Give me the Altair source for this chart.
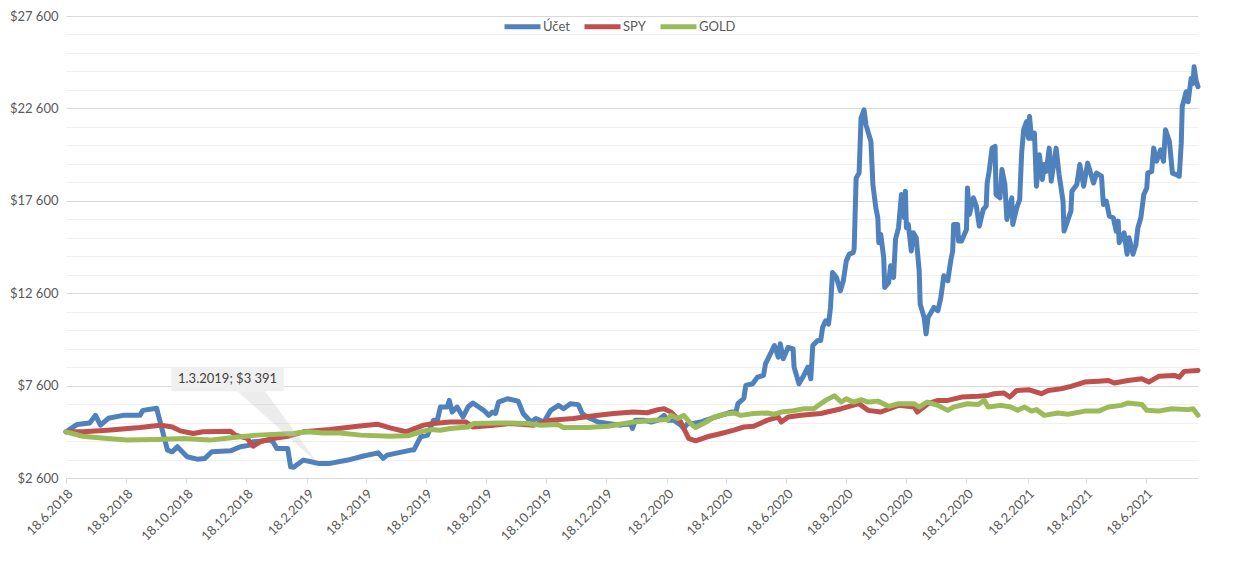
import altair as alt
import pandas as pd

START = pd.Timestamp("2018-06-18")

series_names = ["Účet", "SPY", "GOLD"]
series_colors = ["#4F81BD", "#C0504D", "#9BBB59"]

# (days since 18.6.2018, value in $)
ucet = [(0,5100),(11,5490),(24,5580),(30,5990),(35,5460),(43,5830),(58,5990),(75,5990),(78,6260),(92,6370),
        (103,4110),(108,4020),(113,4290),(123,3750),(133,3620),(141,3660),(148,4020),(167,4070),(177,4290),(187,4380),
        (190,4560),(207,4650),(210,4560),(214,4200),(225,4200),(228,3210),(231,3180),(241,3570),(251,3450),(256,3391),
        (268,3390),(286,3570),(302,3790),(317,3960),(322,3660),(326,3840),(350,4110),(353,4110),(360,4830),(367,4920),
        (373,5730),(377,5730),(380,6440),(387,6440),(389,6800),(392,6170),(397,6440),(403,5900),(408,6440),(413,6660),
        (419,6440),(424,6260),(429,5990),(433,6170),(436,6090),(439,6710),(448,6890),(459,6760),(464,6090),(472,5630),
        (477,5820),(485,5630),(492,6260),(500,6530),(505,6350),(512,6620),(520,6570),(524,6090),(529,5900),(540,5630),
        (550,5550),(563,5460),(573,5550),(575,5280),(578,5730),(586,5730),(594,5630),(601,5730),(607,5990),(611,5730),
        (617,5730),(624,5460),(627,5280),(631,5550),(637,5550),(644,5630),(655,5820),(665,5990),(675,6170),(680,6170),
        (682,6620),(688,6910),(690,7610),(697,7700),(702,8060),(708,8150),(710,8780),(715,9320),(719,9770),(723,9140),
        (725,9860),(728,9050),(733,9670),(738,9590),(739,8600),(744,7700),(748,8060),(753,8600),(756,7970),(758,9770),
        (763,10040),(766,10040),(768,10750),(771,11110),(774,10930),(776,11830),(778,13720),(782,13450),(786,12730),(789,13270),
        (792,14350),(795,14710),(799,14790),(800,15000),(802,18830),(805,19100),(807,22070),(810,22520),(812,21710),(817,20810),
        (819,18480),(822,17220),(824,16680),(825,15330),(827,15780),(830,14520),(831,12910),(835,13180),(837,14080),(840,13450),
        (842,15520),(845,16140),(848,17940),(851,16680),(852,18120),(853,16140),(855,16320),(858,14880),(860,15870),(863,15600),
        (866,13810),(867,12010),(871,11290),(873,10400),(875,11290),(878,11560),(881,11830),(885,11650),(888,12370),(891,13540),
        (895,13270),(898,14350),(900,14880),(901,16320),(905,16320),(906,15420),(909,15420),(914,16050),(915,18290),(917,16860),
        (921,17760),(924,17310),(927,16230),(931,17130),(934,17310),(935,18560),(937,19190),(940,20450),(943,20540),(944,17940),
        (948,17760),(950,19290),(953,18480),(955,16590),(957,17130),(960,17760),(961,16320),(965,17220),(968,17670),(970,20180),
        (972,21440),(975,21890),(977,20990),(978,22160),(980,20990),(983,21260),(985,18390),(988,20090),(991,18750),(993,19560),
        (995,19190),(998,20450),(1000,18660),(1005,20450),(1008,19020),(1012,17580),(1013,15960),(1020,17040),(1021,18120),(1026,18480),
        (1029,19560),(1033,18390),(1037,19640),(1043,18560),(1046,19100),(1051,18930),(1053,17400),(1056,17580),(1059,16770),(1063,16680),
        (1066,15960),(1068,16500),(1069,15330),(1074,15870),(1077,14710),(1079,15600),(1083,14710),(1086,15240),(1088,16140),(1091,16680),
        (1094,17940),(1097,18290),(1098,19100),(1102,19190),(1104,20450),(1107,19740),(1111,20360),(1114,19740),(1116,21440),(1120,20810),
        (1123,19100),(1127,19020),(1130,18930),(1132,20720),(1133,22700),(1137,23500),(1139,22960),(1142,24220),(1144,23950),(1145,24850),
        (1147,24130),(1149,23770)]

spy = [(0,5100),(17,5100),(42,5190),(75,5330),(96,5460),(108,5360),(116,5150),(129,5010),(139,5100),(167,5130),
       (172,4920),(184,4740),(190,4320),(197,4560),(210,4740),(225,4860),(241,5100),(268,5220),(296,5400),(316,5510),
       (329,5310),(345,5100),(363,5460),(373,5550),(390,5630),(406,5630),(413,5360),(434,5460),(451,5550),(475,5460),
       (492,5730),(515,5820),(540,5990),(556,6090),(576,6170),(590,6130),(601,6300),(607,6350),(614,6170),(624,5630),
       (632,4740),(639,4610),(651,4830),(665,5010),(678,5190),(688,5360),(698,5400),(712,5730),(723,5900),(726,5630),
       (733,5900),(746,5990),(766,6090),(787,6350),(805,6620),(814,6260),(827,6170),(845,6530),(861,6440),(864,6170),
       (875,6620),(885,6800),(895,6800),(909,6980),(926,7020),(936,7070),(942,7160),(952,7200),(958,6980),(965,7340),
       (977,7380),(990,7160),(997,7340),(1010,7430),(1020,7560),(1034,7790),(1048,7840),(1058,7880),(1064,7740),(1078,7880),
       (1092,7970),(1099,7790),(1109,8100),(1125,8150),(1130,8060),(1135,8370),(1149,8420)]

gold = [(0,5100),(17,4860),(42,4740),(62,4650),(92,4690),(119,4740),(146,4650),(170,4790),(194,4920),(231,5010),
        (245,5100),(261,5040),(278,5040),(299,4920),(329,4860),(347,4880),(360,5100),(370,5220),(380,5180),(390,5280),
        (408,5360),(414,5550),(441,5580),(469,5550),(482,5460),(499,5500),(505,5330),(529,5330),(550,5400),(576,5630),
        (597,5730),(611,5760),(614,5990),(621,5820),(627,5990),(634,5550),(639,5330),(647,5550),(658,5900),(668,6050),
        (678,6120),(685,5990),(698,6090),(712,6120),(719,6050),(726,6170),(736,6220),(749,6350),(759,6350),(766,6620),
        (771,6800),(780,7050),(785,6800),(787,6710),(792,6890),(799,6710),(807,6840),(814,6710),(824,6760),(835,6480),
        (845,6620),(861,6620),(866,6440),(874,6710),(885,6530),(895,6260),(901,6440),(915,6620),(926,6580),(932,6800),
        (936,6440),(949,6530),(959,6440),(966,6260),(973,6440),(980,6220),(985,6300),(993,5990),(1007,6120),(1017,6050),
        (1034,6220),(1048,6220),(1058,6440),(1071,6530),(1078,6660),(1092,6580),(1097,6260),(1109,6220),(1122,6350),(1139,6300),
        (1144,6350),(1149,5990)]

# x axis tick dates (18th of every second month)
tick_months = [(2018,6),(2018,8),(2018,10),(2018,12),(2019,2),(2019,4),(2019,6),(2019,8),(2019,10),(2019,12),
               (2020,2),(2020,4),(2020,6),(2020,8),(2020,10),(2020,12),(2021,2),(2021,4),(2021,6)]

# callout annotation
annot_day, annot_val, annot_text = 256, 3391, "1.3.2019; $3 391"
box_days, box_vals = (107, 221), (7290, 8580)
pointer_base_days = (174, 202)

FONT = "Lato"
TXT = "#595959"


def day_str(d):
    return (START + pd.Timedelta(days=d)).strftime("%Y-%m-%d")


rows = []
for name, pts in zip(series_names, [ucet, spy, gold]):
    for d, v in pts:
        rows.append({"date": day_str(d), "value": v, "series": name})
df = pd.DataFrame(rows)

end_day = max(d for d, _ in ucet)
end_ts = START + pd.Timedelta(days=end_day)

x_scale = alt.Scale(
    type="utc",
    domain=[alt.DateTime(year=2018, month=6, date=18, utc=True),
            alt.DateTime(year=end_ts.year, month=end_ts.month, date=end_ts.day, utc=True)],
)

x_axis = alt.Axis(
    values=[alt.DateTime(year=y, month=m, date=18, utc=True) for y, m in tick_months],
    labelExpr="utcFormat(datum.value, '%-d.%-m.%Y')", labelAngle=-45, grid=False,
    tickColor="#d9d9d9", tickSize=5, domainColor="#d9d9d9", labelFont=FONT,
    labelFontSize=13, labelColor=TXT, title=None, labelOverlap=False,
    labelFlush=False, labelPadding=4,
)

y_axis = alt.Axis(
    values=list(range(2600, 27601, 1000)),
    labelExpr="(datum.value - 2600) % 5000 === 0 ? '$' + replace(format(datum.value, ','), ',', ' ') : ''",
    gridColor={"condition": {"test": "(datum.value - 2600) % 5000 === 0", "value": "#d9d9d9"}, "value": "#f0f0f0"},
    ticks=False, domain=False, title=None, labelPadding=8, labelFont=FONT,
    labelFontSize=13, labelColor=TXT, labelOverlap=False, labelFlush=False,
)

y_scale = alt.Scale(domain=[2600, 27600], nice=False, zero=False)


def X(field):
    return alt.X(field, scale=x_scale, axis=x_axis)


def Y(field):
    return alt.Y(field, scale=y_scale, axis=y_axis)


lines = alt.Chart(df).mark_line(strokeWidth=5, strokeJoin="round", strokeCap="round").encode(
    x=X("date:T"),
    y=Y("value:Q"),
    color=alt.Color(
        "series:N",
        scale=alt.Scale(domain=series_names, range=series_colors),
        sort=series_names,
        legend=alt.Legend(
            orient="none", legendX=436, legendY=-10, direction="horizontal", title=None,
            symbolType="stroke", symbolStrokeWidth=5, symbolSize=1296,
            labelFont=FONT, labelFontSize=13, labelColor=TXT, labelOffset=0,
            columnPadding=4, padding=0,
        ),
    ),
)

tri_df = pd.DataFrame([
    {"v": box_vals[0], "d1": day_str(pointer_base_days[0]), "d2": day_str(pointer_base_days[1])},
    {"v": annot_val, "d1": day_str(annot_day), "d2": day_str(annot_day)},
])
pointer = alt.Chart(tri_df).mark_area(orient="horizontal", color="#bfbfbf", opacity=0.3).encode(
    y=Y("v:Q"), x=X("d1:T"), x2="d2:T"
)

box_df = pd.DataFrame([{"d1": day_str(box_days[0]), "d2": day_str(box_days[1]),
                        "v1": box_vals[0], "v2": box_vals[1]}])
box = alt.Chart(box_df).mark_rect(color="#f0f0f0").encode(
    x=X("d1:T"), x2="d2:T", y=Y("v1:Q"), y2="v2:Q"
)

txt_df = pd.DataFrame([{"d": day_str((box_days[0] + box_days[1]) // 2),
                        "v": (box_vals[0] + box_vals[1]) / 2, "t": annot_text}])
label = alt.Chart(txt_df).mark_text(font=FONT, fontSize=13, color="#404040").encode(
    x=X("d:T"), y=Y("v:Q"), text="t:N"
)

chart = alt.layer(lines, pointer, box, label).properties(
    width=1132, height=462,
    autosize=alt.AutoSizeParams(type="none"),
    padding={"left": 58, "top": 8, "right": 30, "bottom": 70},
    background="white",
).configure_view(stroke=None)

chart.save("out.html", embed_options={"renderer": "svg", "actions": False})
